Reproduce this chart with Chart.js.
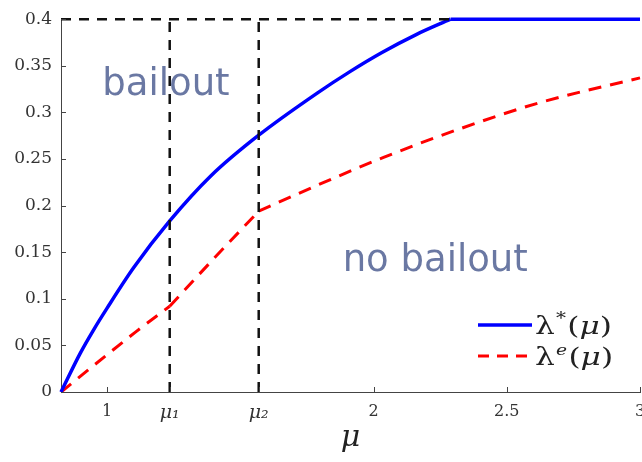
<!DOCTYPE html>
<html>
<head>
<meta charset="utf-8">
<script src="https://cdn.jsdelivr.net/npm/chart.js@4"></script>
<style>
  html, body { margin: 0; padding: 0; background: #fff; }
  #wrap { width: 642px; height: 462px; }
</style>
</head>
<body>
<div id="wrap"><canvas id="chart" width="642" height="462"></canvas></div>
<script>
// lambda*(mu): threshold curve, capped at 0.4
const muStar = [0.827, 0.9, 0.95, 1.0, 1.1, 1.235, 1.39, 1.569, 1.79, 1.91, 2.03, 2.16, 2.289, 3.0];
const lambdaStar = [0, 0.042, 0.067, 0.09, 0.1335, 0.1835, 0.232, 0.2755, 0.321, 0.3435, 0.364, 0.3835, 0.4, 0.4];

// lambda^e(mu): equilibrium curve, kinks at mu1 and mu2
const muE = [0.827, 1.0, 1.11, 1.235, 1.4, 1.569, 1.79, 2.04, 2.33, 2.63, 3.0];
const lambdaE = [0, 0.04, 0.065, 0.092, 0.143, 0.194, 0.222, 0.252, 0.283, 0.311, 0.337];

// thresholds
const mu1 = 1.235;
const mu2 = 1.569;
const muCap = 2.289;
const lambdaCap = 0.4;

const xMin = 0.827, xMax = 3;
const xTickValues = [1, mu1, mu2, 2, 2.5, 3];
const xTickLabels = ['1', 'μ₁', 'μ₂', '2', '2.5', '3'];
const yTickValues = [0, 0.05, 0.1, 0.15, 0.2, 0.25, 0.3, 0.35, 0.4];
const yTickLabels = ['0', '0.05', '0.1', '0.15', '0.2', '0.25', '0.3', '0.35', '0.4'];

const regionLabels = ['bailout', 'no bailout'];
const legendLabels = [['λ', '*', '(μ)'], ['λ', 'e', '(μ)']];

const BLUE = '#0000ff';
const RED = '#ff0000';
const TEXT = '#6a78a3';
const SERIF = '"DejaVu Serif", "Liberation Serif", serif';

// split a series into pieces at the given x values so kinks stay sharp
function pieces(xs, ys, breaks) {
    const out = [];
    let cur = [];
    xs.forEach((x, i) => {
        cur.push({ x: x, y: ys[i] });
        if (breaks.includes(x) && cur.length > 1) {
            out.push(cur);
            cur = [{ x: x, y: ys[i] }];
        }
    });
    if (cur.length > 1) out.push(cur);
    return out;
}

const refLine = (data) => ({
    data: data,
    borderColor: '#111',
    borderWidth: 2.5,
    borderDash: [10, 8],
    pointRadius: 0,
    tension: 0,
    clip: 4
});

const datasets = [
    refLine([{ x: mu1, y: 0 }, { x: mu1, y: lambdaCap }]),
    refLine([{ x: mu2, y: 0 }, { x: mu2, y: lambdaCap }]),
    refLine([{ x: xMin, y: lambdaCap }, { x: muCap, y: lambdaCap }])
];

pieces(muStar, lambdaStar, [muCap]).forEach(p => datasets.push({
    data: p,
    borderColor: BLUE,
    borderWidth: 3.5,
    pointRadius: 0,
    cubicInterpolationMode: 'monotone',
    clip: 4
}));

pieces(muE, lambdaE, [mu1, mu2]).forEach(p => datasets.push({
    data: p,
    borderColor: RED,
    borderWidth: 3,
    borderDash: [13, 9],
    pointRadius: 0,
    cubicInterpolationMode: 'monotone',
    clip: 4
}));

// inward tick marks on both axes
const innerTicks = {
    id: 'innerTicks',
    afterDraw(chart) {
        const { ctx, chartArea, scales } = chart;
        ctx.save();
        ctx.strokeStyle = '#444';
        ctx.lineWidth = 1;
        ctx.beginPath();
        xTickValues.forEach(v => {
            const px = Math.round(scales.x.getPixelForValue(v)) + 0.5;
            ctx.moveTo(px, chartArea.bottom);
            ctx.lineTo(px, chartArea.bottom - 5);
        });
        yTickValues.forEach(v => {
            const py = Math.round(scales.y.getPixelForValue(v)) + 0.5;
            ctx.moveTo(chartArea.left, py);
            ctx.lineTo(chartArea.left + 5, py);
        });
        ctx.stroke();
        ctx.restore();
    }
};

// region names and the legend box
const overlay = {
    id: 'overlay',
    afterDraw(chart) {
        const { ctx, chartArea, scales } = chart;
        ctx.save();
        ctx.fillStyle = TEXT;
        ctx.font = '37px "DejaVu Sans", Verdana, sans-serif';
        ctx.textBaseline = 'alphabetic';
        ctx.fillText(regionLabels[0], scales.x.getPixelForValue(0.982), scales.y.getPixelForValue(0.319));
        ctx.fillText(regionLabels[1], scales.x.getPixelForValue(1.884), scales.y.getPixelForValue(0.130));

        const x0 = chartArea.right - 162;
        const rows = [
            { y: 325, color: BLUE, dash: [], width: 3.5 },
            { y: 356, color: RED, dash: [11, 8], width: 3 }
        ];
        rows.forEach((r, i) => {
            ctx.strokeStyle = r.color;
            ctx.lineWidth = r.width;
            ctx.setLineDash(r.dash);
            ctx.beginPath();
            ctx.moveTo(x0, r.y);
            ctx.lineTo(x0 + 54, r.y);
            ctx.stroke();
            ctx.setLineDash([]);

            // label text, stretched a little horizontally
            const [base, sup] = legendLabels[i];
            ctx.save();
            ctx.translate(x0 + 57, r.y + 9);
            ctx.scale(1.25, 1);
            let tx = 0;
            ctx.fillStyle = '#222';
            ctx.font = '25px ' + SERIF;
            ctx.fillText(base, tx, 0);
            tx += ctx.measureText(base).width + 1;
            ctx.font = (i === 0 ? '16px ' : 'italic 15px ') + SERIF;
            ctx.fillText(sup, tx, -10);
            tx += ctx.measureText(sup).width + 1;
            ctx.font = '25px ' + SERIF;
            ctx.fillText('(', tx, 0);
            tx += ctx.measureText('(').width;
            ctx.font = 'italic 25px ' + SERIF;
            ctx.fillText('μ', tx, 0);
            tx += ctx.measureText('μ').width;
            ctx.font = '25px ' + SERIF;
            ctx.fillText(')', tx, 0);
            ctx.restore();
        });
        ctx.restore();
    }
};

new Chart(document.getElementById('chart').getContext('2d'), {
    type: 'line',
    data: { datasets: datasets },
    options: {
        responsive: false,
        animation: false,
        layout: { padding: { top: 16, right: 2, left: 0, bottom: 0 } },
        plugins: {
            legend: { display: false },
            tooltip: { enabled: false }
        },
        scales: {
            x: {
                type: 'linear',
                min: xMin,
                max: xMax,
                afterBuildTicks: (scale) => {
                    scale.ticks = xTickValues.map(v => ({ value: v }));
                },
                afterFit: (scale) => {
                    scale.height = 70;
                    scale.paddingLeft = 0;
                    scale.paddingRight = 0;
                },
                grid: { display: false, drawTicks: false },
                border: { display: true, color: '#444', width: 1 },
                ticks: {
                    autoSkip: false,
                    maxRotation: 0,
                    padding: 10,
                    color: '#333',
                    font: (ctx) => {
                        const isMu = ctx.tick && (ctx.tick.value === mu1 || ctx.tick.value === mu2);
                        return { family: SERIF, size: isMu ? 19 : 16, style: isMu ? 'italic' : 'normal' };
                    },
                    callback: (v) => xTickLabels[xTickValues.indexOf(v)]
                },
                title: {
                    display: true,
                    text: 'μ',
                    color: '#222',
                    font: { family: SERIF, size: 30, style: 'italic' },
                    padding: { top: 6, bottom: 6 }
                }
            },
            y: {
                type: 'linear',
                min: 0,
                max: 0.4,
                afterBuildTicks: (scale) => {
                    scale.ticks = yTickValues.map(v => ({ value: v }));
                },
                afterFit: (scale) => {
                    scale.width = 61;
                },
                grid: { display: false, drawTicks: false },
                border: { display: true, color: '#444', width: 1 },
                ticks: {
                    padding: 9,
                    color: '#333',
                    font: { family: SERIF, size: 17 },
                    callback: (v) => yTickLabels[yTickValues.indexOf(v)]
                }
            }
        }
    },
    plugins: [innerTicks, overlay]
});
</script>
</body>
</html>
